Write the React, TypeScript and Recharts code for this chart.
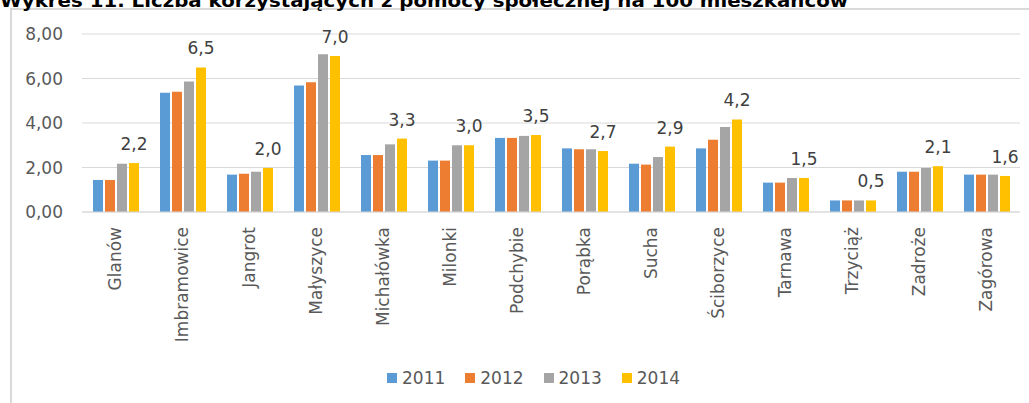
import React from 'react';
import { BarChart, Bar, XAxis, YAxis, CartesianGrid, Legend, LabelList } from 'recharts';

const categories = ['Glanów', 'Imbramowice', 'Jangrot', 'Małyszyce', 'Michałówka', 'Milonki', 'Podchybie', 'Porąbka', 'Sucha', 'Ściborzyce', 'Tarnawa', 'Trzyciąż', 'Zadroże', 'Zagórowa'];
const s2011 = [1.44, 5.36, 1.68, 5.68, 2.56, 2.31, 3.33, 2.86, 2.17, 2.86, 1.32, 0.52, 1.81, 1.68];
const s2012 = [1.44, 5.40, 1.72, 5.83, 2.56, 2.31, 3.33, 2.82, 2.13, 3.25, 1.32, 0.52, 1.81, 1.68];
const s2013 = [2.17, 5.86, 1.81, 7.09, 3.04, 3.00, 3.42, 2.82, 2.47, 3.82, 1.53, 0.52, 1.98, 1.68];
const s2014 = [2.20, 6.50, 1.98, 7.01, 3.30, 3.00, 3.46, 2.74, 2.94, 4.16, 1.53, 0.52, 2.06, 1.62];
const yTicks = [0, 2, 4, 6, 8];
const seriesNames = ['2011', '2012', '2013', '2014'];
const seriesColors = ['#5B9BD5', '#ED7D31', '#A5A5A5', '#FFC000'];
const title = 'Wykres 11. Liczba korzystających z pomocy społecznej na 100 mieszkańców';

const data = categories.map((name, i) => ({
  name,
  '2011': s2011[i],
  '2012': s2012[i],
  '2013': s2013[i],
  '2014': s2014[i],
}));

const FONT = '"DejaVu Sans", Verdana, sans-serif';

const XTick = (props: any) => {
  const { x, y, payload } = props;
  return (
    <text
      x={x}
      y={y}
      dy="0.35em"
      transform={`rotate(-90, ${x}, ${y})`}
      textAnchor="end"
      fill="#595959"
      fontSize={17}
      fontFamily={FONT}
    >
      {payload.value}
    </text>
  );
};

const LegendContent = () => (
  <div style={{ width: 1029, height: 30, position: 'relative' }}>
    <div style={{ position: 'absolute', left: 387, top: 0, height: 30, display: 'flex', alignItems: 'center' }}>
      {seriesNames.map((n, i) => (
        <div key={n} style={{ display: 'flex', alignItems: 'center', marginRight: i < 3 ? 20 : 0 }}>
          <div style={{ width: 10, height: 10, background: seriesColors[i], marginRight: 5 }} />
          <span style={{ fontFamily: FONT, fontSize: 17, color: '#595959', lineHeight: '20px' }}>{n}</span>
        </div>
      ))}
    </div>
  </div>
);

export default function App() {
  return (
    <div style={{ position: 'absolute', left: 0, top: 0, width: 1029, height: 403, overflow: 'hidden', background: '#fff' }}>
      <div style={{ position: 'absolute', left: 10, top: 8, width: 1100, height: 500, borderLeft: '2px solid #d9d9d9', borderTop: '2px solid #d9d9d9' }} />
      <svg style={{ position: 'absolute', left: 0, top: 0 }} width={1029} height={20}>
        <text x={0} y={7} fontFamily={FONT} fontWeight="bold" fontSize={17} fill="#000" textLength={848} lengthAdjust="spacingAndGlyphs">
          {title}
        </text>
      </svg>
      <div style={{ position: 'absolute', left: 0, top: 0 }}>
        <BarChart
          width={1029}
          height={403}
          data={data}
          margin={{ top: 34, right: 9, left: 0, bottom: 10 }}
          barSize={10}
          barGap={2}
        >
          <CartesianGrid horizontal vertical={false} stroke="#d9d9d9" />
          <XAxis
            dataKey="name"
            height={151}
            interval={0}
            tickLine={false}
            tickSize={0}
            tickMargin={15}
            axisLine={{ stroke: '#d9d9d9' }}
            tick={<XTick />}
          />
          <YAxis
            width={82}
            domain={[0, 8]}
            ticks={yTicks}
            tickLine={false}
            tickSize={0}
            tickMargin={19}
            axisLine={false}
            tick={{ fill: '#595959', fontSize: 17, fontFamily: FONT }}
            tickFormatter={(v: number) => v.toFixed(2).replace('.', ',')}
          />
          <Legend verticalAlign="bottom" height={30} wrapperStyle={{ left: 0, width: 1029, height: 30 }} content={<LegendContent />} />
          {seriesNames.map((n, i) => (
            <Bar key={n} dataKey={n} fill={seriesColors[i]} isAnimationActive={false}>
              {n === '2014' ? (
                <LabelList
                  dataKey={n}
                  position="top"
                  offset={13}
                  fill="#404040"
                  fontSize={17}
                  fontFamily={FONT}
                  formatter={(v: any) => Number(v).toFixed(1).replace('.', ',')}
                />
              ) : null}
            </Bar>
          ))}
        </BarChart>
      </div>
    </div>
  );
}
